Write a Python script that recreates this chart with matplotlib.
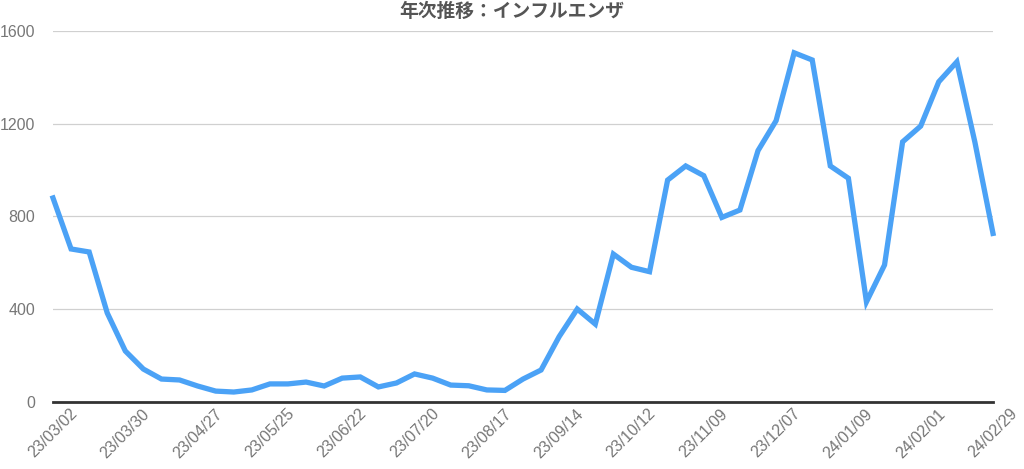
import matplotlib
matplotlib.use("Agg")
import numpy as np
from matplotlib import pyplot as plt

# weekly counts, 23/03/02 .. 24/02/29
values = [880, 660, 647, 384, 220, 142, 99, 95, 69, 47,
          43, 52, 78, 78, 86, 69, 103, 108, 65, 82,
          121, 103, 73, 70, 52, 50, 99, 138, 282, 401,
          336, 638, 581, 562, 957, 1018, 976, 796, 828, 1084,
          1213, 1506, 1475, 1018, 965, 432, 591, 1122, 1190, 1381,
          1467, 1120, 727]
tick_labels = ['23/03/02', '23/03/30', '23/04/27', '23/05/25', '23/06/22',
               '23/07/20', '23/08/17', '23/09/14', '23/10/12', '23/11/09',
               '23/12/07', '24/01/09', '24/02/01', '24/02/29']
title = '年次推移：インフルエンザ'

plt.rcParams['font.family'] = ['Liberation Sans', 'Noto Sans CJK JP', 'DejaVu Sans']

fig = plt.figure(figsize=(10.24, 4.69), dpi=100)
ax = fig.add_axes([53 / 1024, 67 / 469, 940 / 1024, 371 / 469])

x = np.arange(len(values))
ax.plot(x, values, color='#4ba2f6', linewidth=3.8, solid_joinstyle='miter', clip_on=False, zorder=3)

ax.set_xlim(0, len(values) - 1)
ax.set_ylim(0, 1600)
ax.set_yticks([0, 400, 800, 1200, 1600])
ax.set_xticks(x[::4])
ax.set_xticklabels(tick_labels, rotation=45, ha='center', va='top')

ax.grid(axis='y', color='#d0d0d0', linewidth=0.9)
ax.set_axisbelow(True)
for s in ['top', 'right', 'left']:
    ax.spines[s].set_visible(False)
ax.spines['bottom'].set_color('#333333')
ax.spines['bottom'].set_linewidth(2)
ax.spines['bottom'].set_zorder(2)
ax.tick_params(axis='both', length=0, labelsize=11.5, colors='#777777')
ax.tick_params(axis='y', pad=13)
ax.tick_params(axis='x', pad=3)

fig.text(0.5, 0.975, title, ha='center', va='center', fontsize=13.5,
         fontweight='bold', color='#555555', family=['Noto Sans CJK JP', 'DejaVu Sans'])

fig.savefig('out.png', dpi=100)
